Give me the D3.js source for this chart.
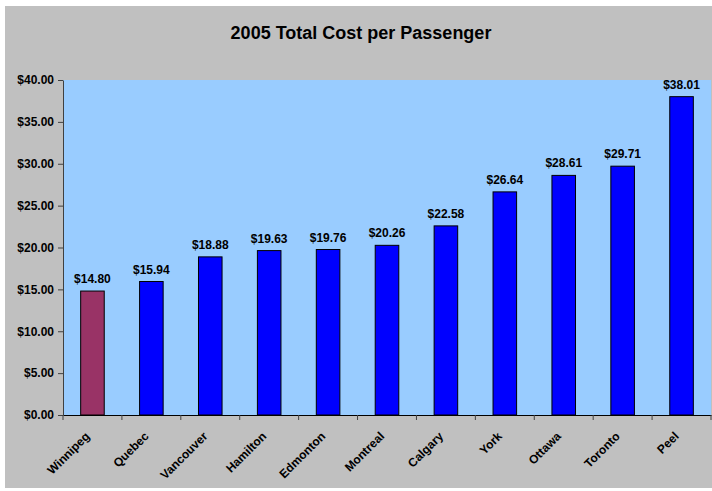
<!DOCTYPE html>
<html><head><meta charset="utf-8">
<script src="https://cdn.jsdelivr.net/npm/d3@7"></script>
<style>body{margin:0;background:#fff}svg{display:block}</style>
</head><body>
<svg id="c" width="712" height="491"></svg>
<script>
const categories = ["Winnipeg","Quebec","Vancouver","Hamilton","Edmonton","Montreal","Calgary","York","Ottawa","Toronto","Peel"];
const values = [14.80,15.94,18.88,19.63,19.76,20.26,22.58,26.64,28.61,29.71,38.01];
const yTicks = [0,5,10,15,20,25,30,35,40];
const title = "2005 Total Cost per Passenger";

const svg = d3.select("#c");
const font = "'Liberation Sans', Arial, sans-serif";
svg.append("rect").attr("x",5).attr("y",6).attr("width",707).attr("height",482).attr("fill","#c0c0c0");

const m = {l:63, r:711, t:80, b:415};
const x = d3.scaleBand().domain(categories).range([m.l,m.r]).paddingInner(0).paddingOuter(0);
const y = d3.scaleLinear().domain([0,40]).range([m.b,m.t]);

svg.append("rect").attr("x",m.l).attr("y",m.t).attr("width",m.r-m.l).attr("height",m.b-m.t).attr("fill","#99ccff");

svg.append("text").attr("x",361).attr("y",39).attr("text-anchor","middle")
  .attr("font-family",font).attr("font-weight","bold").attr("font-size","18px").text(title);

const bw = x.bandwidth()*0.4;
svg.append("g").selectAll("rect").data(values).join("rect")
  .attr("x",(d,i)=>x(categories[i])+x.bandwidth()/2-bw/2)
  .attr("y",d=>y(d)).attr("width",bw).attr("height",d=>y(0)-y(d))
  .attr("fill",(d,i)=>i===0?"#993366":"#0000ff").attr("stroke","#000").attr("stroke-width",1);

svg.append("g").selectAll("text").data(values).join("text")
  .attr("x",(d,i)=>x(categories[i])+x.bandwidth()/2).attr("y",d=>y(d)-8)
  .attr("text-anchor","middle").attr("font-family",font).attr("font-weight","bold").attr("font-size","12px")
  .text(d=>"$"+d.toFixed(2));

const ya = svg.append("g").attr("transform",`translate(${m.l},0)`)
  .call(d3.axisLeft(y).tickValues(yTicks).tickSize(5).tickSizeOuter(0).tickPadding(4).tickFormat(d=>"$"+d3.format(".2f")(d)));
ya.select(".domain").attr("stroke","#404040");
ya.selectAll("line").attr("stroke","#404040");
ya.selectAll("text").attr("font-family",font).attr("font-weight","bold").attr("font-size","12px").attr("fill","#000");

const xa = svg.append("g").attr("transform",`translate(0,${m.b})`)
  .call(d3.axisBottom(x).tickSize(0).tickFormat(""));
xa.select(".domain").attr("stroke","#000");
const bounds = categories.map(c=>x(c)).concat([m.r]);
xa.selectAll(".bt").data(bounds).join("line").attr("class","bt")
  .attr("x1",d=>d).attr("x2",d=>d).attr("y1",0).attr("y2",5).attr("stroke","#404040");

svg.append("g").selectAll("text").data(categories).join("text")
  .attr("transform",c=>`translate(${x(c)+x.bandwidth()/2-2},${m.b+22}) rotate(-45)`)
  .attr("text-anchor","end").attr("font-family",font).attr("font-weight","bold").attr("font-size","12px")
  .text(c=>c);
</script>
</body></html>
